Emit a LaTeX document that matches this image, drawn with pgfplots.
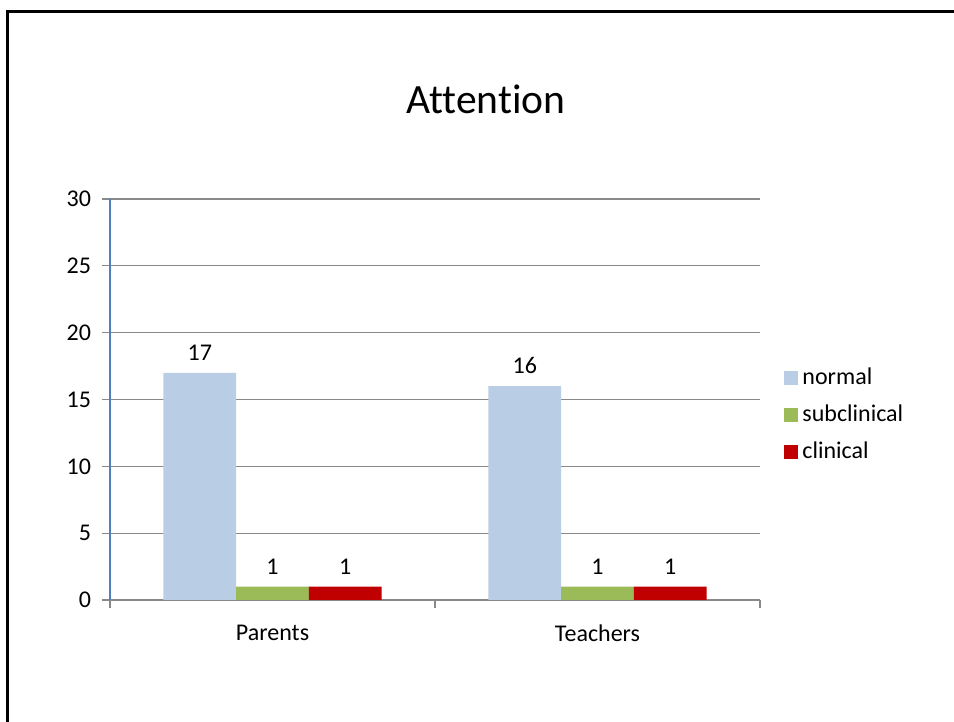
\documentclass[border=0pt]{standalone}
\usepackage{pgfplots}
\pgfplotsset{compat=1.18}
\usepackage{fontspec}
\setmainfont{Carlito}[Ligatures=NoCommon]
\definecolor{cnormal}{HTML}{B9CDE5}
\definecolor{csub}{HTML}{9BBB59}
\definecolor{cclin}{HTML}{C00000}
\definecolor{cgrid}{HTML}{898989}
\definecolor{cyax}{HTML}{4F81BD}
\begin{document}
\begin{tikzpicture}
\useasboundingbox (0,0) rectangle (477pt,361pt);
\begin{scope}
\clip (0,0) rectangle (477pt,361pt);
\draw[line width=1.5pt] (3.75pt,-5pt) -- (3.75pt,355.25pt) -- (480pt,355.25pt);
\end{scope}
\node[font=\fontsize{20.8}{24}\selectfont, anchor=base] at (243pt,304pt) {Attention};
\begin{axis}[
  at={(55pt,61pt)}, anchor=south west,
  x=162.5pt, y=6.6833pt,
  scale only axis,
  xmin=-0.5, xmax=1.5, ymin=0, ymax=30,
  ybar=0pt, bar width=0.2237,
  axis lines=left,
  axis line style={-},
  x axis line style={draw=cgrid, line width=0.6pt},
  y axis line style={draw=cyax, line width=0.8pt},
  ytick={0,5,...,30},
  ymajorgrids, grid style={draw=cgrid, line width=0.6pt},
  xtick={0,1}, xticklabels={Parents,Teachers},
  minor xtick={-0.5,0.5,1.5},
  major x tick style={draw=none},
  minor x tick style={draw=cgrid, line width=0.6pt},
  minor tick length=4pt,
  y tick style={draw=cgrid, line width=0.6pt},
  major tick length=4pt,
  tick align=outside,
  /pgf/number format/assume math mode=true,
  tick label style={font=\fontsize{12}{14}\selectfont, text=black},
  yticklabel style={xshift=-2pt},
  xticklabel style={yshift=-5pt},
  nodes near coords,
  every node near coord/.append style={font=\fontsize{12}{14}\selectfont, text=black, yshift=2.5pt},
  legend style={draw=none, at={(1.037,0.461)}, anchor=west, inner sep=0pt,
    font=\fontsize{12}{14}\selectfont, row sep=3.5pt,
    nodes={text height=8.5pt, text depth=2.5pt, inner sep=2pt}},
  legend cell align=left,
  legend image code/.code={\fill[#1] (0pt,-3.5pt) rectangle (7pt,3.5pt);},
]
\addplot[fill=cnormal, draw=none] coordinates {(0,17) (1,16)};
\addplot[fill=csub, draw=none] coordinates {(0,1) (1,1)};
\addplot[fill=cclin, draw=none] coordinates {(0,1) (1,1)};
\legend{normal,subclinical,clinical}
\end{axis}
\end{tikzpicture}
\end{document}
